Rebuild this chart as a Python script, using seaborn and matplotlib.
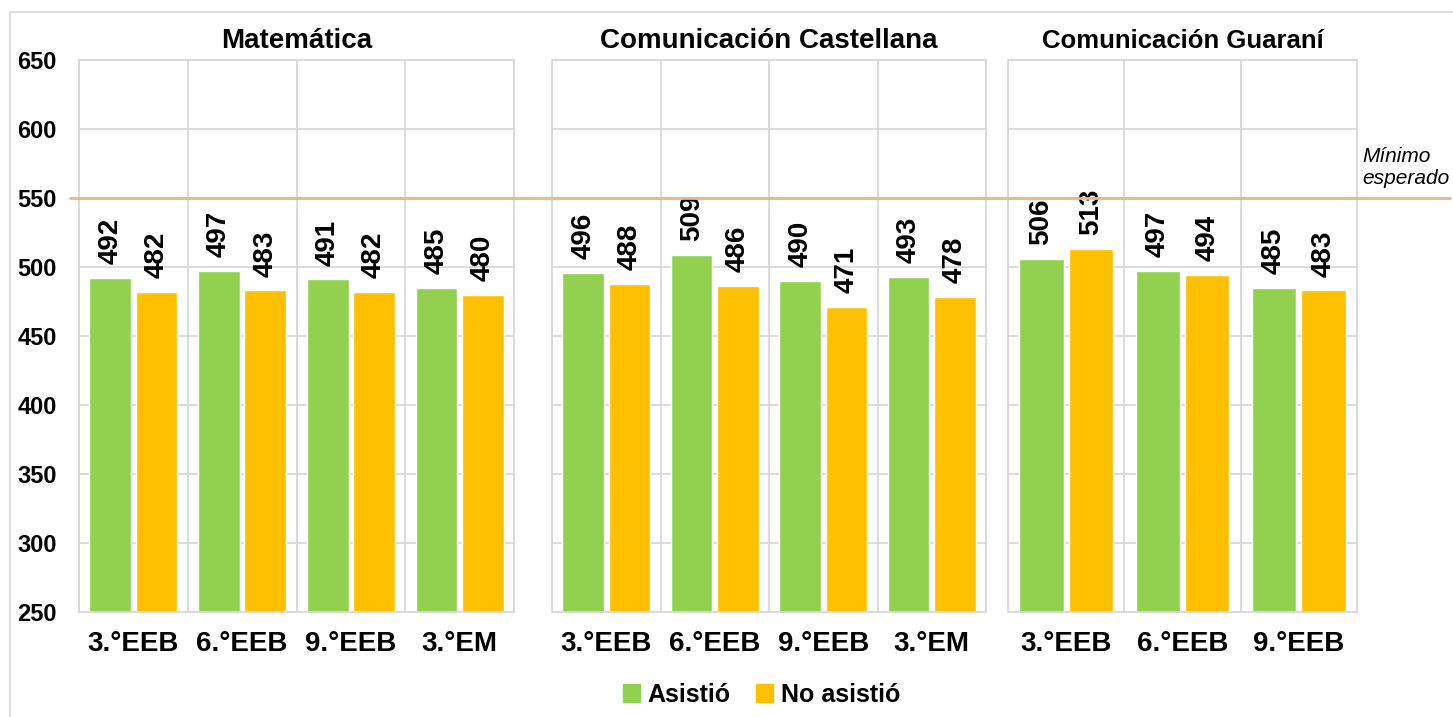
import pandas as pd
import numpy as np
import matplotlib.pyplot as plt
import seaborn as sns
from matplotlib.lines import Line2D
from matplotlib.patches import Patch, Rectangle
from matplotlib.transforms import blended_transform_factory

sns.set_style("white")
plt.rcParams['font.family'] = ['Liberation Sans', 'DejaVu Sans']
plt.rcParams['font.weight'] = 'bold'
plt.rcParams['text.color'] = 'black'
plt.rcParams['xtick.color'] = 'black'
plt.rcParams['ytick.color'] = 'black'

# data
subjects = ["Matemática", "Comunicación Castellana", "Comunicación Guaraní"]
grades_mat = ["3.°EEB", "6.°EEB", "9.°EEB", "3.°EM"]
grades_cas = ["3.°EEB", "6.°EEB", "9.°EEB", "3.°EM"]
grades_gua = ["3.°EEB", "6.°EEB", "9.°EEB"]
asistio_mat = [492, 497, 491, 485]
no_asistio_mat = [482, 483, 482, 480]
asistio_cas = [496, 509, 490, 493]
no_asistio_cas = [488, 486, 471, 478]
asistio_gua = [506, 497, 485]
no_asistio_gua = [513, 494, 483]
groups = ["Asistió", "No asistió"]
minimo = 550

colors = ["#92D050", "#FFC000"]
grid_col = "#D9D9D9"
line_col = "#F4B183"

panels = [
    (grades_mat, asistio_mat, no_asistio_mat),
    (grades_cas, asistio_cas, no_asistio_cas),
    (grades_gua, asistio_gua, no_asistio_gua),
]

W, H = 1453, 717
fig = plt.figure(figsize=(W / 100, H / 100), dpi=100)
# pixel extents of the three panels
xr = [(79, 514), (552, 986), (1008, 1357)]
top, bottom = 60, 612

axes = []
for i, (grades, a, na) in enumerate(panels):
    x0, x1 = xr[i]
    ax = fig.add_axes([x0 / W, 1 - bottom / H, (x1 - x0) / W, (bottom - top) / H])
    axes.append(ax)
    n = len(grades)
    df = pd.DataFrame({
        "grade": grades + grades,
        "group": [groups[0]] * n + [groups[1]] * n,
        "score": a + na,
    })
    sns.barplot(data=df, x="grade", y="score", hue="group", palette=colors, saturation=1,
                width=0.85, gap=0.1, edgecolor="white", linewidth=1,
                errorbar=None, legend=False, ax=ax, zorder=2)
    for c in ax.containers:
        ax.bar_label(c, rotation=90, padding=10, fontsize=20, fontweight='bold')

    ax.set_ylim(250, 650)
    ax.set_yticks(range(250, 651, 50))
    ax.set_xlim(-0.5, n - 0.5)
    ax.set_xticks(np.arange(-0.5, n), minor=True)
    ax.set_axisbelow(True)
    ax.grid(axis='y', color=grid_col, lw=1.3)
    ax.grid(axis='x', which='minor', color=grid_col, lw=1.3)
    for s in ax.spines.values():
        s.set_color(grid_col)
        s.set_linewidth(1.3)
    ax.tick_params(axis='both', which='both', length=0)
    ax.tick_params(axis='y', labelsize=17, pad=16, labelleft=(i == 0))
    ax.tick_params(axis='x', labelsize=20, pad=14)
    ax.set_xlabel("")
    ax.set_ylabel("")
    ax.set_title(subjects[i], fontsize=20 if i < 2 else 18.5, fontweight='bold', pad=9)

# Minimum expected line across all panels
tr = blended_transform_factory(fig.transFigure, axes[0].transData)
fig.add_artist(Line2D([70 / W, 1450 / W], [minimo, minimo], transform=tr,
                      color=line_col, lw=2, zorder=5))
axes[2].annotate("Mínimo\nesperado", xy=(1, minimo), xycoords=('axes fraction', 'data'),
                 xytext=(4, 7), textcoords='offset points', ha='left', va='bottom',
                 style='italic', fontweight='normal', fontsize=15, annotation_clip=False)

# outer frame
fig.add_artist(Rectangle((10 / W, -0.1), 1.2, 1 - 12 / H + 0.1, transform=fig.transFigure,
                         fill=False, ec=grid_col, lw=1.2))

handles = [Patch(color=colors[0], label=groups[0]), Patch(color=colors[1], label=groups[1])]
fig.legend(handles=handles, loc='center', bbox_to_anchor=(0.524, 0.031), ncol=2,
           frameon=False, prop={'weight': 'bold', 'size': 18},
           handlelength=0.7, handleheight=0.7, handletextpad=0.3, columnspacing=1.0)

fig.savefig("out.png", dpi=100)
